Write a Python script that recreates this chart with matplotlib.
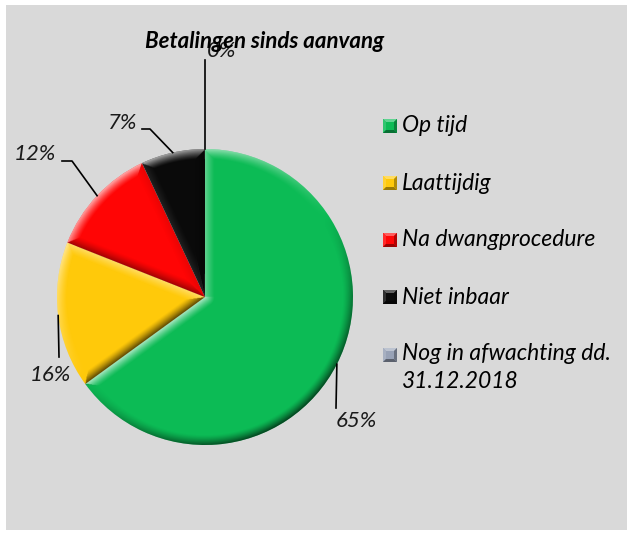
import numpy as np
import matplotlib

matplotlib.use("Agg")
import matplotlib.pyplot as plt
from matplotlib.patches import Rectangle, Polygon
from matplotlib.colors import to_rgb

categories = ["Op tijd", "Laattijdig", "Na dwangprocedure", "Niet inbaar", "Nog in afwachting dd.\n31.12.2018"]
shares = [65, 16, 12, 7, 0]
colors = ["#0cbb55", "#ffc90a", "#ff0505", "#0a0a0a", "#98a2b6"]
title = "Betalingen sinds aanvang"

W, H = 629, 533
CX, CY, R = 205, H - 297, 148
LIGHT = np.array([-0.55, 0.83]) / np.hypot(0.55, 0.83)
FONT = ["Lato", "DejaVu Sans"]

# label text anchor, elbow points of the leader line (pixel coords, y down)
label_spots = [
    dict(xy=(336, 421), ha="left", path=[(336, 408)]),
    dict(xy=(71, 375), ha="right", path=[(59, 357)]),
    dict(xy=(56, 154), ha="right", path=[(72, 161), (62, 161)]),
    dict(xy=(137, 123), ha="right", path=[(150, 129), (142, 129)]),
    dict(xy=(207, 51), ha="left", path=[(205, 60)]),
]


def flip(p):
    return (p[0], H - p[1])


def bevel(ax, wedge, width=10.0, strength=0.65):
    t1, t2 = np.radians(wedge.theta1), np.radians(wedge.theta2)
    if t2 - t1 < 1e-6:
        return
    step = 0.5
    xs = np.arange(CX - R, CX + R + step, step)
    ys = np.arange(CY - R, CY + R + step, step)
    X, Y = np.meshgrid(xs, ys)
    dx, dy = X - CX, Y - CY
    r = np.hypot(dx, dy)
    phi = t1 + np.mod(np.arctan2(dy, dx) - t1, 2 * np.pi)
    a1 = phi - t1
    a2 = t2 - phi
    d_arc = R - r
    d1 = np.where(a1 < np.pi / 2, r * np.sin(a1), r)
    d2 = np.where(a2 < np.pi / 2, r * np.sin(a2), r)
    n_arc = np.cos(phi) * LIGHT[0] + np.sin(phi) * LIGHT[1]
    n1 = np.sin(t1) * LIGHT[0] - np.cos(t1) * LIGHT[1]
    n2 = -np.sin(t2) * LIGHT[0] + np.cos(t2) * LIGHT[1]
    d = np.stack([d_arc, d1, d2])
    n = np.stack([n_arc, np.full_like(r, n1), np.full_like(r, n2)])
    idx = np.argmin(d, axis=0)
    dmin = np.take_along_axis(d, idx[None], 0)[0]
    nsel = np.take_along_axis(n, idx[None], 0)[0]
    t = np.clip(dmin / width, 0, 1)
    s = nsel * (1 - t) ** 1.3 * strength
    rgba = np.zeros(r.shape + (4,))
    rgba[..., :3] = np.where(s[..., None] > 0, 1.0, 0.0)
    rgba[..., 3] = np.abs(s)
    im = ax.imshow(rgba, origin="lower", extent=(xs[0], xs[-1], ys[0], ys[-1]),
                   interpolation="bilinear", zorder=3)
    im.set_clip_path(wedge)


def shade(c, f):
    c = np.array(to_rgb(c))
    return tuple(np.clip(c + (1 - c) * f, 0, 1)) if f > 0 else tuple(c * (1 + f))


fig = plt.figure(figsize=(W / 100, H / 100), dpi=100, facecolor="white")
ax = fig.add_axes([0, 0, 1, 1])
ax.add_patch(Rectangle((6, H - 530), 621, 525, facecolor="#d9d9d9", edgecolor="none", zorder=0))

wedges, _ = ax.pie(shares, colors=colors, startangle=90, counterclock=False,
                   center=(CX, CY), radius=R, wedgeprops=dict(linewidth=0, zorder=2))
for w in wedges:
    bevel(ax, w)

# percentage labels with leader lines from the middle of each arc
for w, v, spot in zip(wedges, shares, label_spots):
    mid = np.radians((w.theta1 + w.theta2) / 2)
    start = (CX + R * np.cos(mid), CY + R * np.sin(mid))
    pts = [start] + [flip(p) for p in spot["path"]]
    ax.plot([p[0] for p in pts], [p[1] for p in pts], color="black", lw=1.2, zorder=4)
    tx, ty = flip(spot["xy"])
    ax.text(tx, ty, f"{v}%", ha=spot["ha"], va="center", fontsize=16, style="italic",
            family=FONT, color="#1a1a1a", zorder=5)

ax.text(265, H - 42, title, ha="center", va="center", fontsize=16, style="italic",
        weight="bold", family=FONT, zorder=5)

# legend with bevelled square markers
rows = [126, 183, 240, 297, 355]
for cat, col, ry in zip(categories, colors, rows):
    x0, y0, sz = 383, H - ry - 7, 14
    ax.add_patch(Rectangle((x0, y0), sz, sz, facecolor=col, edgecolor="none", zorder=4))
    b = 3
    facets = [
        ([(x0, y0 + sz), (x0 + sz, y0 + sz), (x0 + sz - b, y0 + sz - b), (x0 + b, y0 + sz - b)], 0.35),
        ([(x0, y0), (x0, y0 + sz), (x0 + b, y0 + sz - b), (x0 + b, y0 + b)], 0.15),
        ([(x0, y0), (x0 + sz, y0), (x0 + sz - b, y0 + b), (x0 + b, y0 + b)], -0.4),
        ([(x0 + sz, y0), (x0 + sz, y0 + sz), (x0 + sz - b, y0 + sz - b), (x0 + sz - b, y0 + b)], -0.3),
    ]
    for pts, f in facets:
        ax.add_patch(Polygon(pts, closed=True, facecolor=shade(col, f), edgecolor="none", zorder=5))
    if "\n" in cat:
        ax.text(402, H - ry + 12, cat, ha="left", va="top", fontsize=16.5, style="italic",
                family=FONT, linespacing=1.4, zorder=5)
    else:
        ax.text(402, H - ry, cat, ha="left", va="center", fontsize=16.5, style="italic",
                family=FONT, zorder=5)

ax.set_xlim(0, W)
ax.set_ylim(0, H)
ax.set_aspect("auto")
ax.axis("off")
fig.savefig("out.png", dpi=100, facecolor="white")
